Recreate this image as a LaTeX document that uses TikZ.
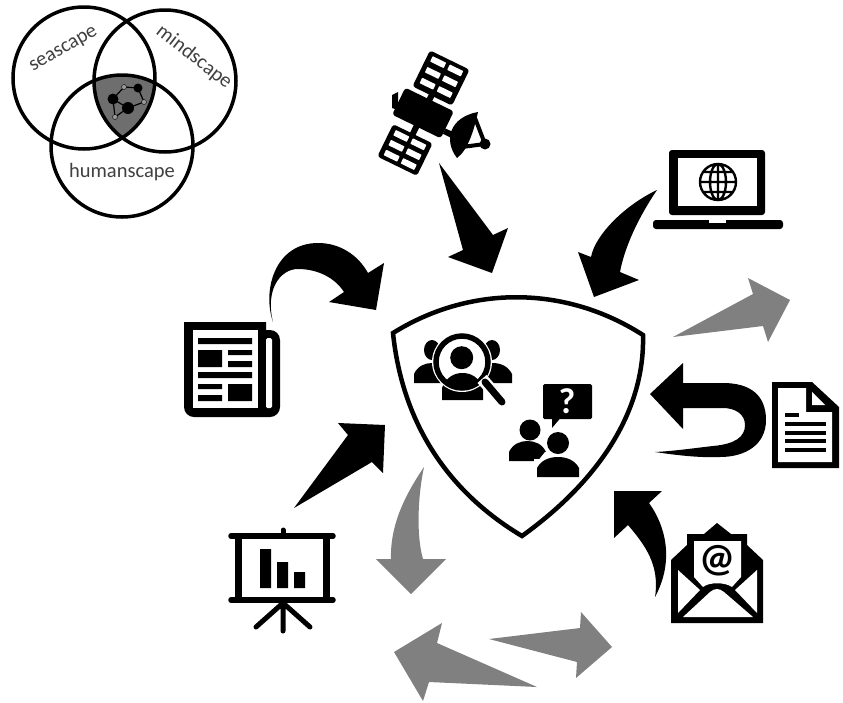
\documentclass[tikz,border=0pt]{standalone}
\usepackage{fontspec}
\setmainfont{Carlito}
\usepackage{tikz}
\usetikzlibrary{calc}
\definecolor{arrowgray}{gray}{0.5}
\definecolor{labelgray}{gray}{0.25}
\definecolor{coregray}{gray}{0.43}
\tikzstyle{ring} = [draw, line width=3.5pt]
\tikzstyle{blackarrow} = [fill=black]
\tikzstyle{grayarrow} = [fill=arrowgray]
\tikzstyle{label} = [text=labelgray, inner sep=0pt, font=\fontsize{20.5}{24}\selectfont]
\tikzstyle{slit} = [fill=white, rounded corners=0.5pt]
\tikzstyle{bar} = [draw, line cap=round]
\newcommand{\personbody}[4]{
  \fill (#1,#3) -- (#1,{#3-0.45*(#3-#4)})
    .. controls ({#1+0.1*(#2-#1)},{#4+0.15*(#3-#4)}) and ({#1+0.3*(#2-#1)},#4) .. ({0.5*(#1+#2)},#4)
    .. controls ({#2-0.3*(#2-#1)},#4) and ({#2-0.1*(#2-#1)},{#4+0.15*(#3-#4)}) .. (#2,{#3-0.45*(#3-#4)})
    -- (#2,#3) -- cycle;
}
\begin{document}
\begin{tikzpicture}[x=1pt, y=-1pt]
    \useasboundingbox (0,0) rectangle (843,702);
    % Venn circles
    \begin{scope}
      \clip (84,78) circle (72);
      \clip (165,81) circle (72);
      \fill [coregray] (122,146) circle (71);
    \end{scope}
    \draw [ring] (84,78) circle (71);
    \draw [ring] (165,81) circle (71);
    \draw [ring] (122,146) circle (71);
    \node [label, rotate=30] (seascape) at (64,50) {seascape};
    \node [label, rotate=-38] (mindscape) at (194,57) {mindscape};
    \node [label] (humanscape) at (122,172) {humanscape};
    % Network
    \draw [line width=1.2pt] (113,99) -- (124,87) -- (138,88) -- (144,102) -- (128,108) -- (113,99) -- (115,117) -- (128,108);
    \fill (113,99) circle (5.5) (138,88) circle (4.5) (128,108) circle (6);
    \fill [coregray!70!white, draw=black] (124,87) circle (2.5) (144,102) circle (2.5) (115,117) circle (2.5);
    % Shield
    \draw [line width=4.5pt, line join=miter] (393,333) .. controls (470,285) and (565,285) .. (643,335)
      .. controls (645,410) and (600,480) .. (522,536)
      .. controls (445,490) and (402,420) .. (393,333) -- cycle;
    % Searched people
    \fill (432,350) ellipse (8 and 10);
    \fill (492,350) ellipse (8 and 10);
    \personbody{414}{450}{383}{363}
    \personbody{473}{512}{383}{363}
    \personbody{442}{483}{400}{373}
    \fill [white] (462,362) circle (30);
    \begin{scope}
      \clip (462,362) circle (24);
      \personbody{442}{483}{400}{373}
    \end{scope}
    \fill (461.7,357.7) circle (11.5);
    \draw [line width=5.5pt] (462,362) circle (26);
    \draw [white, line width=12pt] (482,379) -- (490,388);
    \draw [bar, line width=7pt] (485,382) -- (502,402);
    % Question
    \fill [rounded corners=1.5pt] (543,384) rectangle (592,419);
    \fill (552,428) -- (552,415) -- (563,415) -- cycle;
    \node [white, inner sep=0pt, font=\fontsize{36}{36}\selectfont\bfseries] (question) at (567,401) {?};
    \fill (530,430) circle (10.5);
    \personbody{509}{546}{461}{441}
    \fill [white] (558,443) circle (13);
    \fill [white] (534,459) rectangle (582,480);
    \fill [white] (545,452) -- (575,452) -- (575,462) -- (537,462) -- cycle;
    \fill (558,443) circle (11);
    \personbody{537}{579}{477}{457}
    % Satellite
    \fill (392,95) -- (398,92) -- (398,110) -- (392,108) -- cycle;
    \begin{scope}[shift={(441,78)}, rotate=-26]
      \fill [rounded corners=3pt] (-22,-20) rectangle (22,20);
      \foreach \row in {-13,-1,11} {
        \fill [slit] (-17,\row-3) rectangle (-2,\row+3);
        \fill [slit] (2,\row-3) rectangle (17,\row+3);
      }
    \end{scope}
    \begin{scope}[shift={(405,150)}, rotate=-26]
      \fill [rounded corners=3pt] (-22,-18) rectangle (22,18);
      \foreach \row in {-11,0,11} {
        \fill [slit] (-17,\row-3) rectangle (-2,\row+3);
        \fill [slit] (2,\row-3) rectangle (17,\row+3);
      }
    \end{scope}
    \begin{scope}[shift={(423,113)}, rotate=-26]
      \fill [rounded corners=3pt] (-27,-15) rectangle (27,15);
      \fill (-3,-25) rectangle (3,25);
      \fill (27,4) rectangle (40,10);
    \end{scope}
    \fill (478,112) .. controls (450,117) and (443,140) .. (457,158) .. controls (468,150) and (474,130) .. (478,112) -- cycle;
    \draw [line width=4pt] (475,118) -- (485,144) -- (462,147);
    \fill (485,144) circle (5.5);
    % Laptop
    \fill [rounded corners=3pt] (669,215) -- (669,150) -- (765,150) -- (765,215) -- cycle;
    \fill [white] (678,158) rectangle (757,206);
    \fill [rounded corners=3pt] (653,220) -- (783,220) -- (783,229) -- (653,229) -- cycle;
    \fill [white] (709,219) rectangle (726,223);
    \draw [line width=2.4pt] (718,182) circle (18) (718,182) ellipse (8 and 18) (718,164) -- (718,200)
      (700,182) -- (736,182) (703,172) -- (733,172) (703,192) -- (733,192);
    % Newspaper
    \fill [rounded corners=10pt] (184,322) -- (184,417) -- (280,417) -- (280,330) [sharp corners] -- (266,330) -- (266,322) -- cycle;
    \fill [white] (193,330) rectangle (258,408);
    \fill [white, rounded corners=1.5pt] (266,338) rectangle (272,408);
    \fill (198,338) rectangle (252,344) (198,350) rectangle (222,367) (228,350) rectangle (252,355) (228,361) rectangle (252,367)
      (198,372) rectangle (252,378) (198,384) rectangle (222,389) (198,395) rectangle (222,401) (228,384) rectangle (252,401);
    % Document
    \fill (772,382) -- (812,382) -- (839,407) -- (839,468) -- (772,468) -- cycle;
    \fill [white] (778,388) -- (806,388) -- (806,412) -- (832,412) -- (832,462) -- (778,462) -- cycle;
    \fill [white] (812,392) -- (825,405) -- (812,405) -- cycle;
    \fill (785,413) rectangle (799,417);
    \foreach \row in {422,431,439,448} {
      \fill (785,\row) rectangle (826,\row+4);
    }
    % Envelope
    \fill (671,560) -- (687,545) -- (687,534) -- (704,534) -- (717,523) -- (731,534) -- (747,534) -- (747,545) -- (763,560) -- (763,623) -- (671,623) -- cycle;
    \fill [white] (694,541) -- (741,541) -- (741,577) -- (732,587) .. controls (725,582) and (709,582) .. (703,587) -- (694,577) -- cycle;
    \fill [white] (678,570) -- (700,590) -- (678,613) -- cycle;
    \fill [white] (757,570) -- (735,590) -- (757,613) -- cycle;
    \fill [white] (683,617) -- (710,592) .. controls (715,588) and (719,588) .. (724,592) -- (753,617) -- cycle;
    \node [inner sep=0pt, font=\fontsize{40}{40}\selectfont\bfseries] (at) at (717,561) {@};
    % Board
    \draw [bar, line width=5.5pt] (231,536) -- (333,536) (231,600) -- (333,600);
    \draw [line width=7pt] (238.5,536) -- (238.5,600) (326,536) -- (326,600);
    \draw [bar, line width=5pt] (283,530) -- (283,536);
    \draw [bar, line width=5pt] (283,603) -- (283,631) (283,603) -- (256,627) (283,603) -- (310,627);
    \fill (260,549) rectangle (271,588) (277,562) rectangle (288,588) (294,572) rectangle (305,588);
    % Arrows
    \path [blackarrow] (439,163) -- (493,235) -- (508,228) -- (492,273) -- (448,257) -- (463,250) -- cycle;
    \path [blackarrow] (657,190) .. controls (625,205) and (595,235) .. (591,257) -- (578,252) -- (594,297) -- (639,280) -- (620,272)
      .. controls (625,245) and (640,215) .. (657,190) -- cycle;
    \path [blackarrow] (273,322) .. controls (262,290) and (275,243) .. (318,243) .. controls (340,243) and (358,255) .. (368,273)
      -- (384,263) -- (376,310) -- (329,302) -- (344,292) .. controls (335,278) and (318,269) .. (298,269)
      .. controls (280,269) and (265,290) .. (273,322) -- cycle;
    \path [blackarrow] (294,508) -- (348,435) -- (338,423) -- (385,425) -- (383,473) -- (372,462) -- cycle;
    \path [blackarrow] (650,394) -- (683,363) -- (683,383) -- (723,383) .. controls (750,383) and (766,395) .. (766,420)
      .. controls (766,445) and (745,457) .. (720,457) .. controls (700,458) and (675,455) .. (655,452)
      .. controls (675,451) and (695,448) .. (713,446) .. controls (735,444) and (745,437) .. (745,425)
      .. controls (745,414) and (735,408) .. (723,408) -- (683,408) -- (683,429) -- cycle;
    \path [blackarrow] (614,491) -- (662,491) -- (649,503) .. controls (665,525) and (675,560) .. (655,597)
      .. controls (660,565) and (645,545) .. (628,525) -- (614,538) -- cycle;
    \path [grayarrow] (673,337) -- (753,294) -- (748,278) -- (790,300) -- (768,342) -- (763,326) -- cycle;
    \path [grayarrow] (424,467) .. controls (405,495) and (390,525) .. (391,559) -- (376,559) -- (411,594) -- (446,559) -- (423,559)
      .. controls (416,535) and (418,495) .. (424,467) -- cycle;
    \path [grayarrow] (394,652) -- (442,623) -- (437,643) -- (537,687) -- (429,682) -- (423,701) -- cycle;
    \path [grayarrow] (489,639) -- (580,628) -- (581,612) -- (612,647) -- (576,678) -- (577,662) -- cycle;
\end{tikzpicture}
\end{document}
